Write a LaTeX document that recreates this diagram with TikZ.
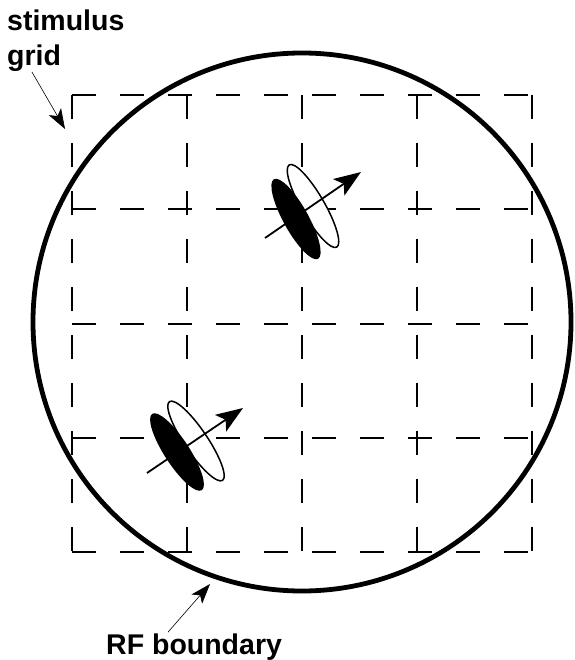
\documentclass[tikz,border=0pt]{standalone}
\usepackage{fontspec}
\setmainfont{Liberation Sans}
\usetikzlibrary{arrows.meta,shapes.geometric}

\begin{document}
\begin{tikzpicture}[
  x=1pt, y=-1pt,
  gridline/.style={line width=1.9pt, dash pattern=on 24pt off 24pt},
  captext/.style={font=\fontsize{28.5}{35}\selectfont\bfseries, inner sep=0pt, align=left},
  pointer/.style={-{Stealth[length=20pt,width=14pt,inset=5pt]}, line width=0.6pt},
  openbar/.style={draw, ellipse, fill=white, line width=1.5pt, inner sep=0pt},
  darkbar/.style={ellipse, fill=black, inner sep=0pt},
  motion/.style={-{Stealth[length=27pt,width=20pt,inset=6pt]}, line width=1.8pt}
]
\useasboundingbox (0,0) rectangle (574,660);

% stimulus grid
\foreach \x in {72,187,302,417,532}
  \draw[gridline] (\x,95) -- (\x,552);
\foreach \y in {95,209,324,438,552}
  \draw[gridline] (72,\y) -- (532,\y);

% receptive field
\node[draw, circle, line width=4.8pt, minimum size=538pt, inner sep=0pt] (rf) at (302,322) {};

% bar pairs
\node[openbar, minimum width=95pt, minimum height=23pt, rotate=-60] (open1) at (313,206) {};
\node[darkbar, minimum width=91pt, minimum height=25pt, rotate=-61] (dark1) at (296,219) {};
\coordinate (m1s) at (265,238);
\coordinate (m1e) at (361,172);
\draw[motion] (m1s) -- (m1e);

\node[openbar, minimum width=95pt, minimum height=23pt, rotate=-56] (open2) at (196,441) {};
\node[darkbar, minimum width=91pt, minimum height=25pt, rotate=-57] (dark2) at (177,452) {};
\coordinate (m2s) at (147,473);
\coordinate (m2e) at (243,408);
\draw[motion] (m2s) -- (m2e);

% labels
\node[captext, anchor=north west] (gridlabel) at (7,10) {stimulus\\grid};
\node[captext, anchor=base west] (rflabel) at (106,654) {RF boundary};
\coordinate (gridtip) at (65,129);
\coordinate (rftip) at (210,584);
\draw[pointer] ([xshift=25pt]gridlabel.south west) -- (gridtip);
\draw[pointer] ([xshift=62pt,yshift=1pt]rflabel.north west) -- (rftip);
\end{tikzpicture}
\end{document}
